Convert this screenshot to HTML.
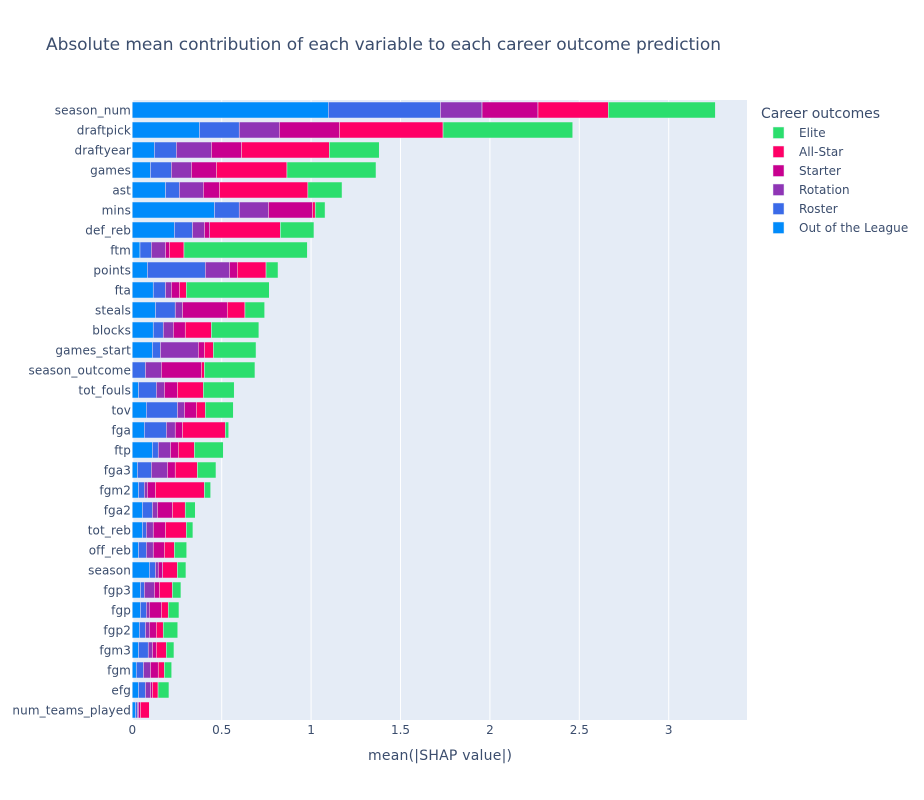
<!DOCTYPE html>
<html lang="en">
<head>
<meta charset="utf-8">
<title>Absolute mean contribution of each variable to each career outcome prediction</title>
<style>
html,body{margin:0;padding:0;background:#fff;}
body{width:924px;height:800px;overflow:hidden;}
svg{display:block;font-family:"DejaVu Sans","Liberation Sans",sans-serif;}
text{fill:#3b4d6d;}
</style>
</head>
<body>
<svg id="chart" xmlns="http://www.w3.org/2000/svg" width="924" height="800" viewBox="0 0 924 800">
  <rect x="0" y="0" width="924" height="800" fill="#ffffff"/>
  <rect x="132" y="100" width="615" height="620" fill="#E5ECF6"/>
  <g id="grid"></g>
  <g id="bars"></g>
  <g id="xticks"></g>
  <g id="yticks"></g>
  <text x="46" y="50" font-size="17" textLength="675" lengthAdjust="spacing">Absolute mean contribution of each variable to each career outcome prediction</text>
  <text x="368" y="760" font-size="14" textLength="144" lengthAdjust="spacing">mean(|SHAP value|)</text>
  <text x="761" y="118" font-size="14" textLength="119" lengthAdjust="spacing">Career outcomes</text>
  <g id="legend"></g>
</svg>
<script>
const categories = ["season_num","draftpick","draftyear","games","ast","mins","def_reb","ftm","points","fta","steals","blocks","games_start","season_outcome","tot_fouls","tov","fga","ftp","fga3","fgm2","fga2","tot_reb","off_reb","season","fgp3","fgp","fgp2","fgm3","fgm","efg","num_teams_played"];
const outOfLeague = [1.096,.375,.123,.101,.185,.459,.235,.043,.084,.117,.129,.117,.112,0,.034,.078,.067,.112,.028,.034,.056,.056,.034,.095,.045,.045,.039,.034,.022,.034,.017];
const roster = [.627,.223,.123,.117,.078,.139,.101,.063,.324,.068,.111,.056,.045,.073,.100,.174,.123,.033,.078,.033,.056,.022,.044,.034,.022,.033,.034,.055,.040,.039,.011];
const rotation = [.233,.224,.196,.112,.134,.163,.067,.079,.135,.033,.040,.056,.212,.089,.045,.039,.050,.068,.090,.017,.028,.039,.039,.016,.056,.017,.022,.023,.039,.028,.006];
const starter = [.313,.336,.168,.140,.090,.246,.030,.022,.044,.045,.251,.067,.034,.224,.073,.067,.040,.044,.044,.045,.084,.068,.062,.025,.028,.067,.039,.022,.044,.011,.011];
const allStar = [.393,.580,.492,.395,.495,.016,.395,.082,.161,.039,.099,.146,.050,.017,.145,.050,.240,.090,.124,.274,.072,.117,.056,.082,.073,.039,.039,.056,.034,.032,.050];
const elite = [.599,.725,.279,.498,.191,.055,.188,.690,.067,.464,.110,.266,.239,.283,.173,.157,.019,.162,.104,.035,.056,.037,.069,.048,.048,.060,.081,.043,.041,.061,0];
const xTickValues = [0,0.5,1,1.5,2,2.5,3];
const xTickLabels = ["0","0.5","1","1.5","2","2.5","3"];
const seriesNames = ["Out of the League","Roster","Rotation","Starter","All-Star","Elite"];
const seriesValues = [outOfLeague,roster,rotation,starter,allStar,elite];
const seriesColors = ["#008BFB","#3A6AE8","#8F35B5","#C8008F","#FF0066","#2BDE6D"];

const NS = "http://www.w3.org/2000/svg";
const plotLeft = 132.3, plotRight = 747, plotTop = 100, plotBottom = 720;
const xMax = (plotRight - plotLeft) / 178.8;
function xScale(v) { return plotLeft + v / xMax * (plotRight - plotLeft); }
function yBand() { return (plotBottom - plotTop) / categories.length; }
function yScale(i) { return plotTop + (i + 0.5) * yBand(); }
function make(tag, attrs, parent) {
  const el = document.createElementNS(NS, tag);
  for (const k in attrs) el.setAttribute(k, attrs[k]);
  parent.appendChild(el);
  return el;
}

const gridG = document.getElementById("grid");
const xTicksG = document.getElementById("xticks");
xTickValues.forEach(function (v, i) {
  const line = make("line", {x1: xScale(v), x2: xScale(v), y1: plotTop, y2: plotBottom, stroke: "#ffffff", "stroke-width": v === 0 ? 2 : 1}, gridG);
  
  
  const label = make("text", {x: xScale(v), y: 734, "font-size": 12, "text-anchor": "middle"}, xTicksG);
  
  
  label.textContent = xTickLabels[i];
});

const barsG = document.getElementById("bars");
const yTicksG = document.getElementById("yticks");
categories.forEach(function (cat, i) {
  const label = make("text", {x: 131, y: yScale(i) + 4.3, "font-size": 12, "text-anchor": "end", "letter-spacing": 0.12}, yTicksG);
  
  
  label.textContent = cat;
  let cum = 0;
  seriesValues.forEach(function (vals, s) {
    const v = vals[i];
    const bw = yBand() * 0.8;
    const r = make("rect", {x: xScale(cum), y: yScale(i) - bw / 2, width: Math.max(0, xScale(cum + v) - xScale(cum)), height: bw, fill: seriesColors[s], stroke: "#E5ECF6", "stroke-width": 0.5}, barsG);
    
    
    cum += v;
  });
});

const legendG = document.getElementById("legend");
const legendTop = 133, legendStep = 19;
seriesNames.slice().reverse().forEach(function (name, i) {
  const color = seriesColors[seriesNames.length - 1 - i];
  const cy = legendTop + i * legendStep;
  const sw = make("rect", {x: 773, y: cy - 6, width: 11, height: 11.5, fill: color, stroke: "#E5ECF6", "stroke-width": 0.5}, legendG);
  
  
  const t = make("text", {x: 799, y: cy + 4, "font-size": 12, "letter-spacing": 0.06}, legendG);
  
  
  t.textContent = name;
});
</script>
</body>
</html>
